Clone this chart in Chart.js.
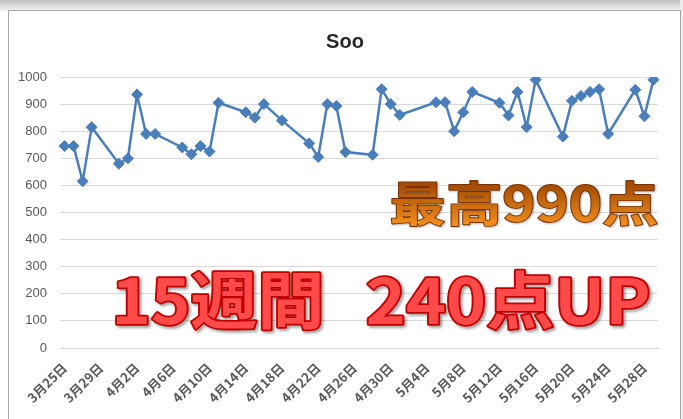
<!DOCTYPE html>
<html>
<head>
<meta charset="utf-8">
<script src="https://cdn.jsdelivr.net/npm/chart.js@4"></script>
<style>
  html, body { margin: 0; padding: 0; width: 683px; height: 419px; overflow: hidden; background: #ffffff; }
  #topband { position: absolute; left: 0; top: 0; width: 683px; height: 11px; background: linear-gradient(#bcbcbc, #dedede 55%, #f2f2f2); }
  #rightband { position: absolute; left: 680px; top: 0; width: 3px; height: 419px; background: #ececec; }
  #frame { position: absolute; left: 8px; top: 10px; width: 673px; height: 420px; border: 1px solid #a9a9a9; box-sizing: border-box; background: #fff; }
  #wrap { position: absolute; left: 0; top: 0; width: 683px; height: 419px; }
</style>
</head>
<body>
<div id="topband"></div>
<div id="rightband"></div>
<div id="frame"></div>
<div id="wrap"><canvas id="c"></canvas></div>
<script>
// ---- data ----
const chartTitle = "Soo";
const bestText = "最高990点";
const gainText = "15週間　240点UP";

const categories = [
  "3月25日","3月26日","3月27日","3月28日","3月29日","3月30日","3月31日",
  "4月1日","4月2日","4月3日","4月4日","4月5日","4月6日","4月7日","4月8日","4月9日","4月10日",
  "4月11日","4月12日","4月13日","4月14日","4月15日","4月16日","4月17日","4月18日","4月19日","4月20日",
  "4月21日","4月22日","4月23日","4月24日","4月25日","4月26日","4月27日","4月28日","4月29日","4月30日",
  "5月1日","5月2日","5月3日","5月4日","5月5日","5月6日","5月7日","5月8日","5月9日","5月10日",
  "5月11日","5月12日","5月13日","5月14日","5月15日","5月16日","5月17日","5月18日","5月19日","5月20日",
  "5月21日","5月22日","5月23日","5月24日","5月25日","5月26日","5月27日","5月28日","5月29日"
];

const scores = [
  745, 745, 615, 815, null, null, 680,
  700, 935, 790, 790, null, null, 740, 715, 745, 725,
  905, null, null, 870, 850, 900, null, 840, null, null,
  755, 705, 900, 893, 723, null, null, 713, 955, 900,
  860, null, null, null, 907, 907, 800, 870, 945, null,
  null, 905, 858, 945, 815, 990, null, null, 780, 912,
  930, 945, 955, 790, null, null, 953, 855, 990
];

const tickLabels = [
  "3月25日","3月29日","4月2日","4月6日","4月10日","4月14日","4月18日","4月22日","4月26日",
  "4月30日","5月4日","5月8日","5月12日","5月16日","5月20日","5月24日","5月28日"
];

const yMin = 0, yMax = 1000, yStep = 100;

// ---- overlay text plugin ----
function drawFitted(ctx, text, left, right, baseline, size, kind) {
  ctx.save();
  ctx.font = 'bold ' + size + 'px "Noto Sans CJK JP"';
  ctx.textAlign = 'left';
  ctx.textBaseline = 'alphabetic';
  const m = ctx.measureText(text);
  const inkW = m.actualBoundingBoxLeft + m.actualBoundingBoxRight;
  const sx = (right - left) / inkW;
  ctx.translate(left + m.actualBoundingBoxLeft * sx, baseline);
  ctx.scale(sx, 1);
  ctx.lineJoin = 'round';
  if (kind === 'red') {
    ctx.shadowColor = 'rgba(0,0,0,0.4)';
    ctx.shadowOffsetX = 2; ctx.shadowOffsetY = 2; ctx.shadowBlur = 3;
    ctx.strokeStyle = '#c00000';
    ctx.lineWidth = 3.5;
    ctx.strokeText(text, 0, 0);
    ctx.shadowColor = 'rgba(0,0,0,0)';
    ctx.fillStyle = '#ff4a4a';
    ctx.fillText(text, 0, 0);
  } else {
    const g = ctx.createLinearGradient(0, -m.actualBoundingBoxAscent, 0, m.actualBoundingBoxDescent);
    g.addColorStop(0, '#9a4300');
    g.addColorStop(1, '#f7921e');
    ctx.shadowColor = 'rgba(0,0,0,0.3)';
    ctx.shadowOffsetX = 1; ctx.shadowOffsetY = 1; ctx.shadowBlur = 2;
    ctx.strokeStyle = '#7a3300';
    ctx.lineWidth = 1.8;
    ctx.strokeText(text, 0, 0);
    ctx.shadowColor = 'rgba(0,0,0,0)';
    ctx.fillStyle = g;
    ctx.fillText(text, 0, 0);
  }
  ctx.restore();
}

const overlay = {
  id: 'overlay',
  afterDraw(chart) {
    const ctx = chart.ctx;
    ctx.save();
    ctx.font = 'bold 20px "Liberation Sans"';
    ctx.fillStyle = '#262626';
    ctx.textAlign = 'center';
    ctx.textBaseline = 'middle';
    ctx.fillText(chartTitle, 345, 42);
    ctx.restore();
    drawFitted(ctx, bestText, 392, 657, 221, 47, 'orange');
    const parts = gainText.split('　');
    drawFitted(ctx, parts[0], 117, 320, 324, 62, 'red');
    drawFitted(ctx, parts[1], 368, 648, 324, 62, 'red');
  }
};

new Chart(document.getElementById('c'), {
  type: 'line',
  data: {
    labels: categories,
    datasets: [{
      data: scores,
      spanGaps: true,
      borderColor: '#4a7ebb',
      backgroundColor: '#4a7ebb',
      borderWidth: 2.5,
      tension: 0,
      pointStyle: 'rectRot',
      pointRadius: 5.5,
      pointBorderWidth: 1,
      pointBackgroundColor: '#4a7ebb',
      pointBorderColor: '#4a7ebb'
    }]
  },
  options: {
    responsive: true,
    maintainAspectRatio: false,
    animation: false,
    devicePixelRatio: 1,
    layout: { padding: { left: 8, right: 25, top: 77, bottom: 0 } },
    plugins: { legend: { display: false }, title: { display: false }, tooltip: { enabled: false } },
    scales: {
      x: {
        type: 'category',
        offset: true,
        grid: { display: false },
        border: { display: true, color: '#d9d9d9' },
        ticks: {
          autoSkip: false,
          minRotation: 45,
          maxRotation: 45,
          padding: 4,
          color: '#595959',
          font: { family: '"Noto Sans CJK JP"', size: 13, weight: 'bold' },
          callback: function (v) {
            const lab = this.getLabelForValue(v);
            return tickLabels.includes(lab) ? lab : '';
          }
        },
        afterFit: function (s) { s.height = 71; }
      },
      y: {
        min: yMin, max: yMax,
        grid: { color: '#d9d9d9', drawTicks: false },
        border: { display: false },
        ticks: {
          stepSize: yStep,
          padding: 13,
          color: '#595959',
          font: { family: '"Liberation Sans"', size: 13 },
          callback: function (v) { return String(v); }
        },
        afterFit: function (s) { s.width = 52; }
      }
    }
  },
  plugins: [overlay]
});
</script>
</body>
</html>
